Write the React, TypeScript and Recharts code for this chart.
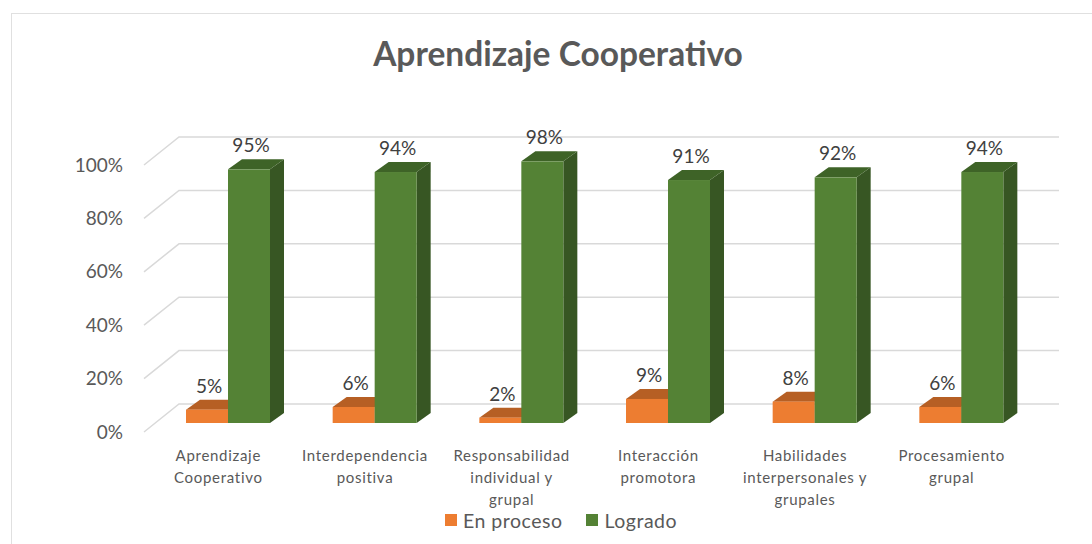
import React from 'react';
import { BarChart, Bar, XAxis, YAxis, CartesianGrid, LabelList, Legend } from 'recharts';

const categories = [
  'Aprendizaje Cooperativo',
  'Interdependencia positiva',
  'Responsabilidad individual y grupal',
  'Interacción promotora',
  'Habilidades interpersonales y grupales',
  'Procesamiento grupal',
];
const categoryLines: string[][] = [
  ['Aprendizaje', 'Cooperativo'],
  ['Interdependencia', 'positiva'],
  ['Responsabilidad', 'individual y', 'grupal'],
  ['Interacción', 'promotora'],
  ['Habilidades', 'interpersonales y', 'grupales'],
  ['Procesamiento', 'grupal'],
];
const enProceso = [0.05, 0.06, 0.02, 0.09, 0.08, 0.06];
const logrado = [0.95, 0.94, 0.98, 0.91, 0.92, 0.94];
const yTicks = [0, 0.2, 0.4, 0.6, 0.8, 1];

const data = categories.map((c, i) => ({ name: c, idx: i, enProceso: enProceso[i], logrado: logrado[i] }));

const DX = 14; // bar depth
const DY = 10;
const FONT = 'Lato, "Noto Sans", sans-serif';

const makeShape = (front: string, top: string, side: string) => (props: any) => {
  const { x, y, width, height } = props;
  if (width == null || height == null) return null;
  return (
    <g>
      <polygon
        points={`${x + width},${y} ${x + width + DX},${y - DY} ${x + width + DX},${y + height - DY} ${x + width},${y + height}`}
        fill={side}
      />
      <polygon
        points={`${x},${y} ${x + DX},${y - DY} ${x + width + DX},${y - DY} ${x + width},${y}`}
        fill={top}
      />
      <rect x={x} y={y} width={width} height={height} fill={front} />
    </g>
  );
};

const orangeShape = makeShape('#ED7D31', '#B65F24', '#A8561F');
const greenShape = makeShape('#548235', '#3E6327', '#375623');

const gridLine = (props: any) => {
  const { x1, x2, y1 } = props;
  const fx = x1 - 11;
  const fy = y1 + 9;
  const bx = x1 + 24;
  const by = y1 - 19;
  return (
    <path
      key={props.key ?? `g-${y1}`}
      d={`M${fx},${fy} L${bx},${by} L${x2 + 24},${by}`}
      stroke="#D9D9D9"
      strokeWidth={1.5}
      fill="none"
    />
  );
};

const YTick = (props: any) => {
  const { y, payload } = props;
  return (
    <text x={123} y={y + 9} dy={6.5} textAnchor="end" fill="#595959" fontSize={19} fontFamily={FONT}>
      {`${Math.round(payload.value * 100)}%`}
    </text>
  );
};

const XTick = (props: any) => {
  const { x, y, index } = props;
  const lines = categoryLines[index] || [];
  return (
    <g>
      {lines.map((l, i) => (
        <text
          key={i}
          x={x - 10}
          y={y + 30 + i * 22}
          textAnchor="middle"
          fill="#595959"
          fontSize={15}
          letterSpacing={0.7}
          fontFamily={FONT}
        >
          {l}
        </text>
      ))}
    </g>
  );
};

const ValueLabel = (props: any) => {
  const { x, y, width, value } = props;
  return (
    <text x={x + width / 2 + 2} y={y - 17} textAnchor="middle" fill="#404040" fontSize={19} fontFamily={FONT}>
      {`${Math.round(value * 100)}%`}
    </text>
  );
};

const LegendContent = (props: any) => {
  const { payload } = props;
  return (
    <div
      style={{
        display: 'flex',
        alignItems: 'center',
        height: 20,
        fontFamily: FONT,
        fontSize: 19.5,
        letterSpacing: 0.5,
        color: '#595959',
      }}
    >
      {(payload || []).map((p: any, i: number) => (
        <div key={i} style={{ display: 'flex', alignItems: 'center', marginRight: 24 }}>
          <span style={{ display: 'inline-block', width: 12, height: 12, background: p.color, marginRight: 6 }} />
          <span>{p.value}</span>
        </div>
      ))}
    </div>
  );
};

export default function App() {
  return (
    <div style={{ position: 'absolute', left: 0, top: 0, width: 1092, height: 544, background: '#fff', overflow: 'hidden' }}>
      <div
        style={{
          position: 'absolute',
          left: 11,
          top: 13,
          width: 1200,
          height: 600,
          border: '1.5px solid #E0E0E0',
          boxSizing: 'border-box',
        }}
      />
      <div
        style={{
          position: 'absolute',
          left: 0,
          width: 1092,
          top: 33,
          textAlign: 'center',
          fontFamily: FONT,
          fontWeight: 700,
          fontSize: 33.5,
          color: '#595959',
          paddingLeft: 24,
          boxSizing: 'border-box',
        }}
      >
        Aprendizaje Cooperativo
      </div>
      <div style={{ position: 'absolute', left: 0, top: 0 }}>
        <BarChart
          width={1092}
          height={544}
          data={data}
          margin={{ top: 156, right: 57, bottom: 71, left: 95 }}
          barGap={0}
          barSize={42}
        >
          <CartesianGrid vertical={false} horizontal={gridLine as any} />
          <YAxis
            width={60}
            domain={[0, 1]}
            ticks={yTicks}
            axisLine={false}
            tickLine={false}
            tick={<YTick />}
          />
          <XAxis dataKey="name" axisLine={false} tickLine={false} tick={<XTick />} interval={0} height={30} />
          <Legend
            verticalAlign="bottom"
            height={20}
            content={<LegendContent />}
            wrapperStyle={{ position: 'absolute', left: 445, top: 510, width: 400 }}
          />
          <Bar dataKey="enProceso" name="En proceso" fill="#ED7D31" shape={orangeShape} isAnimationActive={false}>
            <LabelList dataKey="enProceso" content={<ValueLabel />} />
          </Bar>
          <Bar dataKey="logrado" name="Logrado" fill="#548235" shape={greenShape} isAnimationActive={false}>
            <LabelList dataKey="logrado" content={<ValueLabel />} />
          </Bar>
        </BarChart>
      </div>
    </div>
  );
}
